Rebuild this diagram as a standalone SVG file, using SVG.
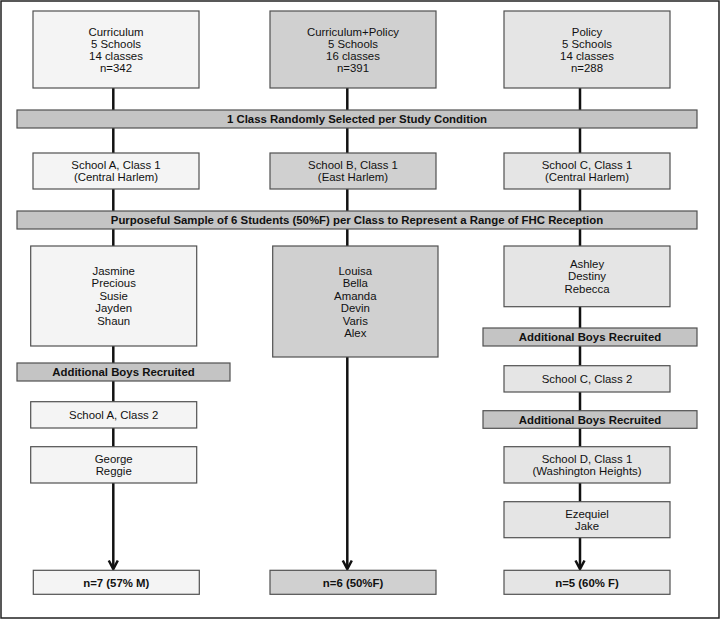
<svg xmlns="http://www.w3.org/2000/svg" width="721" height="620" viewBox="0 0 721 620">
<style>
.b{stroke:#505050;stroke-width:1.2}
.c1{fill:#f4f4f4}.c2{fill:#d0d0d0}.c3{fill:#e5e5e5}.bn{fill:#c4c4c4}
text{font-family:"Liberation Sans",Arial,sans-serif;font-size:11.4px;fill:#111;text-anchor:middle}
.bd{font-weight:bold}
.ln{stroke:#111;stroke-width:2.5;fill:none}
</style>
<rect x="1" y="1" width="718" height="617" fill="#fff" stroke="#222" stroke-width="1.5"/>
<g id="connectors">
<line class="ln" x1="113.3" y1="88" x2="113.3" y2="568"/>
<line class="ln" x1="347.3" y1="88" x2="347.3" y2="568"/>
<line class="ln" x1="580" y1="88" x2="580" y2="568"/>
<path class="ln" d="M108.8 560.5 L113.3 569 L117.8 560.5"/>
<path class="ln" d="M342.8 560.5 L347.3 569 L351.8 560.5"/>
<path class="ln" d="M575.5 560.5 L580 569 L584.5 560.5"/>
</g>
<g id="n-curriculum"><rect class="b c1" x="33" y="11" width="166" height="77"/>
<text x="116" y="35.5">Curriculum</text><text x="116" y="47.5">5 Schools</text><text x="116" y="59.5">14 classes</text><text x="116" y="72">n=342</text></g>
<g id="n-currpolicy"><rect class="b c2" x="270" y="11" width="166" height="77"/>
<text x="353" y="35.5">Curriculum+Policy</text><text x="353" y="47.5">5 Schools</text><text x="353" y="59.5">16 classes</text><text x="353" y="72">n=391</text></g>
<g id="n-policy"><rect class="b c3" x="504" y="11" width="166" height="77"/>
<text x="587" y="35.5">Policy</text><text x="587" y="47.5">5 Schools</text><text x="587" y="59.5">14 classes</text><text x="587" y="72">n=288</text></g>
<g id="banner1"><rect class="b bn" x="17" y="110" width="680" height="18"/>
<text class="bd" x="357" y="123">1 Class Randomly Selected per Study Condition</text></g>
<g id="n-schoolA1"><rect class="b c1" x="33" y="153" width="166" height="36"/>
<text x="116" y="169">School A, Class 1</text><text x="116" y="181">(Central Harlem)</text></g>
<g id="n-schoolB1"><rect class="b c2" x="270" y="153" width="166" height="36"/>
<text x="353" y="169">School B, Class 1</text><text x="353" y="181">(East Harlem)</text></g>
<g id="n-schoolC1"><rect class="b c3" x="504" y="153" width="166" height="36"/>
<text x="587" y="169">School C, Class 1</text><text x="587" y="181">(Central Harlem)</text></g>
<g id="banner2"><rect class="b bn" x="17" y="211" width="680" height="18"/>
<text class="bd" x="357" y="224">Purposeful Sample of 6 Students (50%F) per Class to Represent a Range of FHC Reception</text></g>
<g id="n-studentsA"><rect class="b c1" x="30.7" y="246" width="166" height="100"/>
<text x="113.7" y="275">Jasmine</text><text x="113.7" y="287.4">Precious</text><text x="113.7" y="299.8">Susie</text><text x="113.7" y="312.2">Jayden</text><text x="113.7" y="324.6">Shaun</text></g>
<g id="n-studentsB"><rect class="b c2" x="272.7" y="246" width="165.3" height="111"/>
<text x="355.3" y="275">Louisa</text><text x="355.3" y="287.4">Bella</text><text x="355.3" y="299.8">Amanda</text><text x="355.3" y="312.2">Devin</text><text x="355.3" y="324.6">Varis</text><text x="355.3" y="337">Alex</text></g>
<g id="n-studentsC"><rect class="b c3" x="504" y="246" width="166" height="60.7"/>
<text x="587" y="268">Ashley</text><text x="587" y="280.4">Destiny</text><text x="587" y="292.8">Rebecca</text></g>
<g id="banner-boysA"><rect class="b bn" x="17" y="363" width="213" height="18"/>
<text class="bd" x="123.5" y="376">Additional Boys Recruited</text></g>
<g id="banner-boysC1"><rect class="b bn" x="483" y="328" width="214" height="18"/>
<text class="bd" x="590" y="341">Additional Boys Recruited</text></g>
<g id="n-schoolC2"><rect class="b c3" x="504" y="365.7" width="166" height="26.3"/>
<text x="587" y="383">School C, Class 2</text></g>
<g id="n-schoolA2"><rect class="b c1" x="30.7" y="401.7" width="166" height="26.3"/>
<text x="113.7" y="419">School A, Class 2</text></g>
<g id="n-boysA"><rect class="b c1" x="30.7" y="446.7" width="166" height="36.3"/>
<text x="113.7" y="463">George</text><text x="113.7" y="474.5">Reggie</text></g>
<g id="banner-boysC2"><rect class="b bn" x="483" y="410.7" width="214" height="17.6"/>
<text class="bd" x="590" y="423.5">Additional Boys Recruited</text></g>
<g id="n-schoolD1"><rect class="b c3" x="504" y="446.7" width="166" height="36.3"/>
<text x="587" y="463">School D, Class 1</text><text x="587" y="474.5">(Washington Heights)</text></g>
<g id="n-boysC"><rect class="b c3" x="504" y="501.7" width="166" height="36"/>
<text x="587" y="518">Ezequiel</text><text x="587" y="529.5">Jake</text></g>
<g id="n-totalA"><rect class="b c1" x="33.3" y="570.3" width="166" height="24"/>
<text class="bd" x="116.3" y="586.5">n=7 (57% M)</text></g>
<g id="n-totalB"><rect class="b c2" x="270" y="570.3" width="166" height="24"/>
<text class="bd" x="353" y="586.5">n=6 (50%F)</text></g>
<g id="n-totalC"><rect class="b c3" x="504" y="570.3" width="166" height="24"/>
<text class="bd" x="587" y="586.5">n=5 (60% F)</text></g>
</svg>
